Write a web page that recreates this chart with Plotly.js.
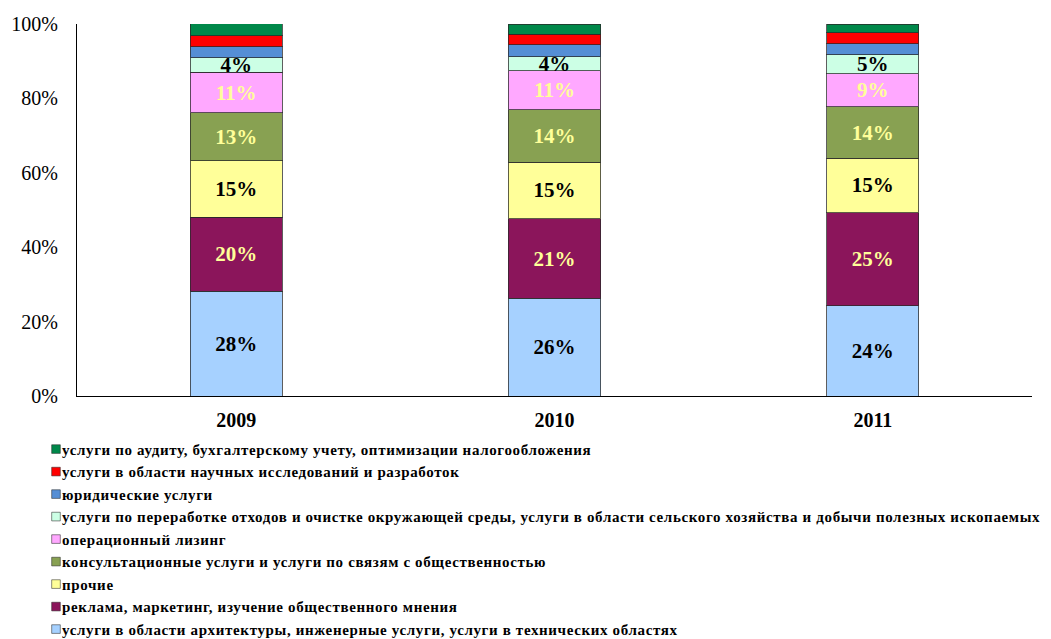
<!DOCTYPE html>
<html>
<head>
<meta charset="utf-8">
<script src="https://cdn.plot.ly/plotly-3.0.1.min.js"></script>
<style>
html,body{margin:0;padding:0;background:#fff;}
#chart{width:1051px;height:639px;}
#chart .legendtext{letter-spacing:0.64px;}
#chart .legend .scrollbox{clip-path:none !important;}
#chart .legend .legendpoints path{transform:translate(34px,0px) scale(0.72);}
</style>
</head>
<body>
<div id="chart"></div>
<script>
const years = ['2009', '2010', '2011'];

const seriesNames = [
  'услуги в области архитектуры, инженерные услуги, услуги в технических областях',
  'реклама, маркетинг, изучение общественного мнения',
  'прочие',
  'консультационные услуги и услуги по связям с общественностью',
  'операционный лизинг',
  'услуги по переработке отходов и очистке окружающей среды, услуги в области сельского хозяйства и добычи полезных ископаемых',
  'юридические услуги',
  'услуги в области научных исследований и разработок',
  'услуги по аудиту, бухгалтерскому учету, оптимизации налогообложения'
];

const architecture = [28.2, 26.3, 24.3];
const advertising  = [19.9, 21.3, 25.0];
const other        = [15.1, 15.3, 14.6];
const consulting   = [12.9, 14.0, 13.8];
const leasing      = [10.9, 10.6, 8.9];
const waste        = [3.9, 3.7, 5.1];
const legal        = [3.0, 3.2, 3.0];
const research     = [3.0, 2.8, 3.0];
const audit        = [3.2, 2.8, 2.3];

const seriesValues = [architecture, advertising, other, consulting, leasing, waste, legal, research, audit];
const seriesColors = ['#A6D1FF', '#8B155B', '#FFFF99', '#88A152', '#FFA8FF', '#CCFFE5', '#558ED5', '#FF0000', '#00884A'];
const labelColors  = ['#000000', '#FFFF99', '#000000', '#FFFF99', '#FFFF99', '#000000', null, null, null];

const traces = seriesValues.map((vals, i) => {
  const t = {
    type: 'bar',
    name: seriesNames[i],
    x: years,
    y: vals,
    width: 0.29,
    marker: {color: seriesColors[i], line: {color: 'rgba(40,40,40,0.75)', width: 1}},
    hoverinfo: 'none'
  };
  if (labelColors[i]) {
    t.texttemplate = '%{y:.0f}%';
    t.textposition = 'inside';
    t.insidetextanchor = 'middle';
    t.constraintext = 'none';
    t.textangle = 0;
    t.textfont = {family: 'Liberation Serif', size: 21, color: labelColors[i], weight: 'bold'};
  } else {
    t.textposition = 'none';
  }
  return t;
});

const layout = {
  width: 1051,
  height: 639,
  margin: {l: 77, r: 19, t: 24, b: 243, autoexpand: false},
  barmode: 'stack',
  bargap: 0.71,
  paper_bgcolor: '#fff',
  plot_bgcolor: '#fff',
  font: {family: 'Liberation Serif', color: '#000'},
  showlegend: true,
  legend: {
    orientation: 'v',
    traceorder: 'reversed',
    x: -0.0576,
    xanchor: 'left',
    y: -0.099,
    yanchor: 'top',
    font: {family: 'Liberation Serif', size: 15, color: '#000', weight: 'bold'},
    itemwidth: 30,
    tracegroupgap: 0,
    bgcolor: 'rgba(0,0,0,0)'
  },
  xaxis: {
    type: 'category',
    showline: true,
    linecolor: '#000',
    linewidth: 1,
    ticks: '',
    showgrid: false,
    ticklabelstandoff: 6,
    tickfont: {family: 'Liberation Serif', size: 20, color: '#000', weight: 'bold'}
  },
  yaxis: {
    range: [0, 100],
    dtick: 20,
    ticksuffix: '%',
    showline: true,
    linecolor: '#000',
    linewidth: 1,
    ticks: '',
    showgrid: false,
    zeroline: false,
    ticklabelstandoff: 14,
    tickfont: {family: 'Liberation Serif', size: 20, color: '#000'}
  }
};

Plotly.newPlot('chart', traces, layout, {displayModeBar: false, staticPlot: true});
</script>
</body>
</html>
